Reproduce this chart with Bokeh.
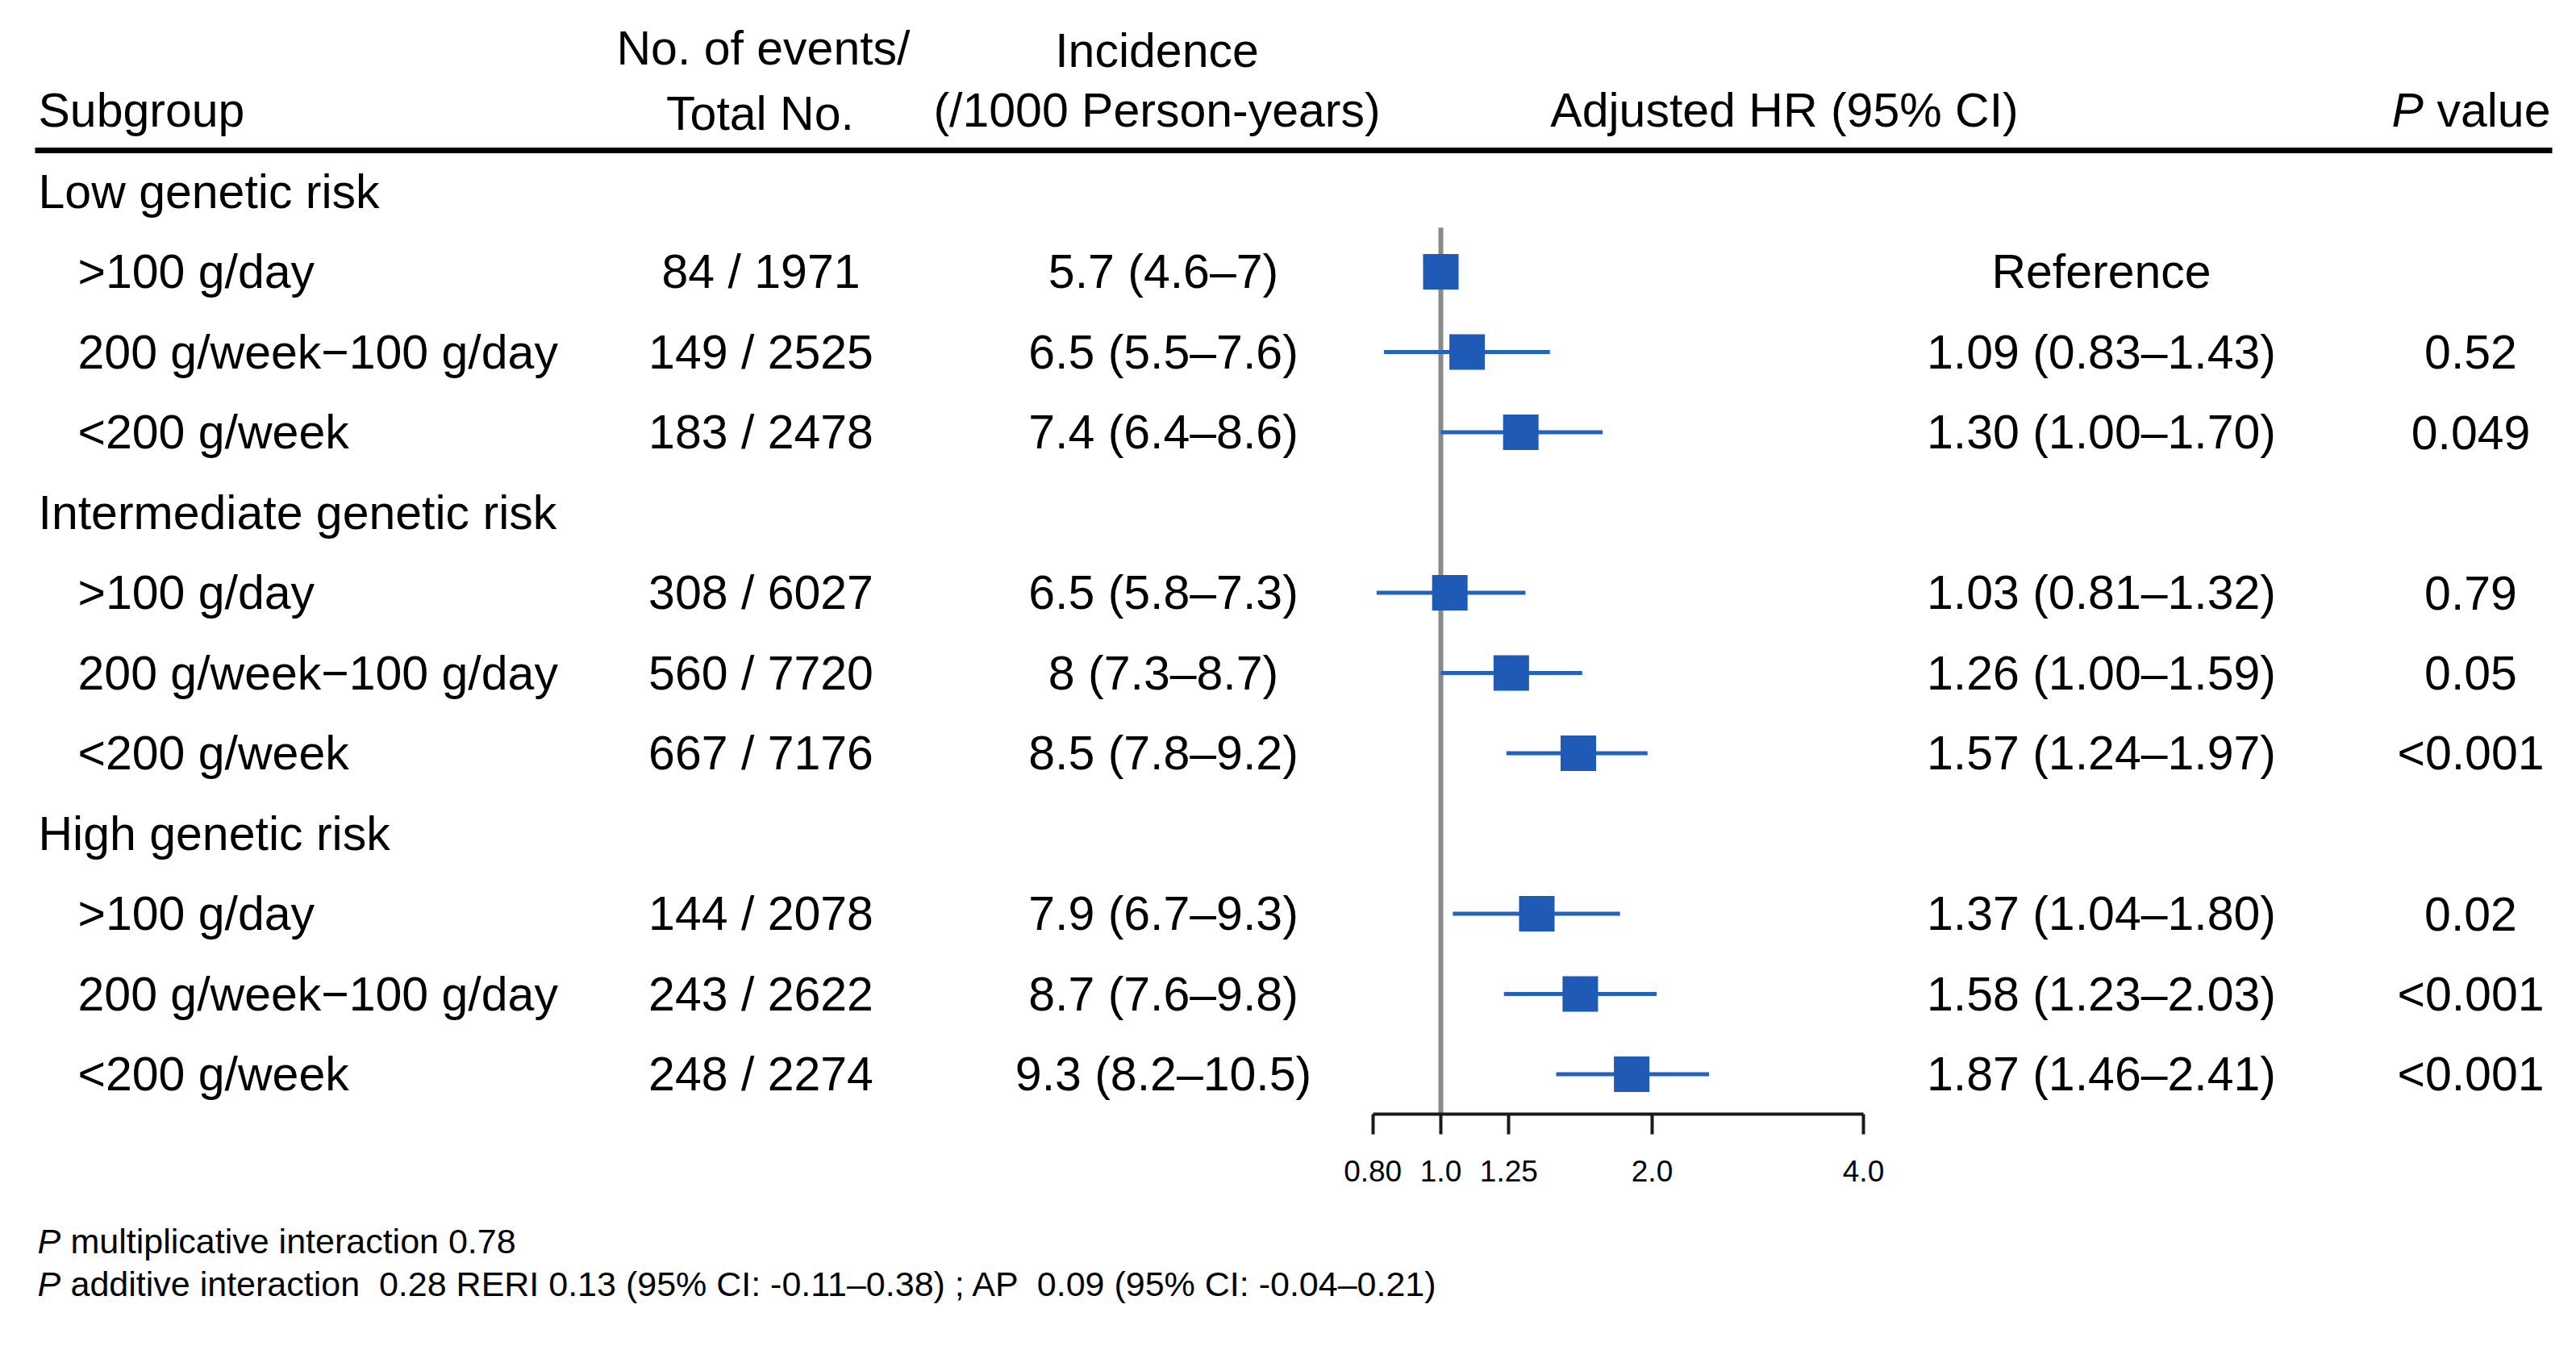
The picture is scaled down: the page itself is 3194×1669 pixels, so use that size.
import math
import numpy as np
from bokeh.plotting import figure
from bokeh.models import (Range1d, LogScale, LogAxis, FixedTicker,
                          CustomJSTickFormatter, ColumnDataSource)
from bokeh.core.properties import value
from bokeh.embed import file_html
from bokeh.resources import INLINE

# ---------------- data ----------------
group_names = ["Low genetic risk", "Intermediate genetic risk", "High genetic risk"]
intake_levels = [">100 g/day", "200 g/week\u2212100 g/day", "<200 g/week"]

events = [84, 149, 183, 308, 560, 667, 144, 243, 248]
totals = [1971, 2525, 2478, 6027, 7720, 7176, 2078, 2622, 2274]

inc_rate = [5.7, 6.5, 7.4, 6.5, 8, 8.5, 7.9, 8.7, 9.3]
inc_lo = [4.6, 5.5, 6.4, 5.8, 7.3, 7.8, 6.7, 7.6, 8.2]
inc_hi = [7, 7.6, 8.6, 7.3, 8.7, 9.2, 9.3, 9.8, 10.5]

hr = [1.00, 1.09, 1.30, 1.03, 1.26, 1.57, 1.37, 1.58, 1.87]
hr_lo = [np.nan, 0.83, 1.00, 0.81, 1.00, 1.24, 1.04, 1.23, 1.46]
hr_hi = [np.nan, 1.43, 1.70, 1.32, 1.59, 1.97, 1.80, 2.03, 2.41]
is_reference = [True, False, False, False, False, False, False, False, False]

p_values = ["", "0.52", "0.049", "0.79", "0.05", "<0.001", "0.02", "<0.001", "<0.001"]

axis_ticks = [0.8, 1.0, 1.25, 2.0, 4.0]
axis_tick_labels = ["0.80", "1.0", "1.25", "2.0", "4.0"]

footnote_1 = "multiplicative interaction 0.78"
footnote_2 = ("additive interaction \u00a00.28 RERI 0.13 (95% CI: -0.11\u20130.38) ; "
              "AP \u00a00.09 (95% CI: -0.04\u20130.21)")

# ---------------- layout constants (page pixel units) ----------------
FONT = "Liberation Sans"
W, H = 3192, 1667
ROW0, ROW_H = 237, 99.5
HR_ONE_X, PX_PER_LN = 1786, 378
BLUE = "#1F5BB6"
BLACK = "#000000"

def row_y(i):
    return ROW0 + ROW_H * i

p = figure(width=W, height=H,
           x_range=Range1d(0, W), y_range=Range1d(H, 0),
           output_backend="svg", toolbar_location=None, min_border=0,
           x_axis_location=None, y_axis_location=None,
           outline_line_color=None, background_fill_color="white",
           border_fill_color="white")
p.grid.visible = False

p.extra_x_ranges = {"hr": Range1d(math.exp((0 - HR_ONE_X) / PX_PER_LN),
                                  math.exp((W - HR_ONE_X) / PX_PER_LN))}
p.extra_x_scales = {"hr": LogScale()}

def add_text(x, y, texts, align="left", size="59px", style="normal"):
    src = ColumnDataSource(dict(x=x, y=y, t=texts))
    p.text(x="x", y="y", text="t", source=src, text_font=value(FONT),
           text_font_size=size, text_align=align, text_baseline="alphabetic",
           text_font_style=style, text_color=BLACK)

# ---------------- header ----------------
add_text([47], [136], ["Subgroup"])
add_text([946], [59], ["No. of events/"], align="center")
add_text([942], [140], ["Total No."], align="center")
add_text([1434], [62], ["Incidence"], align="center")
add_text([1434], [136], ["(/1000 Person-years)"], align="center")
add_text([2212], [136], ["Adjusted HR (95% CI)"], align="center")
add_text([2965], [136], ["P"], style="italic")
add_text([3162], [136], ["value"], align="right")

p.segment(x0=[43], x1=[3164], y0=[186], y1=[186], line_width=7,
          line_color=BLACK, line_cap="butt")

# ---------------- rows ----------------
group_rows = [g * 4 for g in range(len(group_names))]
sub_rows = [g * 4 + 1 + k for g in range(len(group_names)) for k in range(len(intake_levels))]
sub_labels = [lvl for g in range(len(group_names)) for lvl in intake_levels]

gy = [row_y(i) for i in group_rows]
sy = [row_y(i) for i in sub_rows]

add_text([47] * len(gy), gy, group_names)
add_text([96] * len(sy), sy, sub_labels)
add_text([943] * len(sy), sy, [f"{e} / {t}" for e, t in zip(events, totals)], align="center")
add_text([1442] * len(sy), sy,
         [f"{r:g} ({a:g}\u2013{b:g})" for r, a, b in zip(inc_rate, inc_lo, inc_hi)],
         align="center")
hr_text = ["Reference" if ref else f"{h:.2f} ({a:.2f}\u2013{b:.2f})"
           for ref, h, a, b in zip(is_reference, hr, hr_lo, hr_hi)]
add_text([2605] * len(sy), sy, hr_text, align="center")
add_text([3063] * len(sy), sy, p_values, align="center")

# ---------------- forest ----------------
axis_y = row_y(11.5)
p.segment(x0=[1.0], x1=[1.0], y0=[row_y(0.45)], y1=[axis_y], x_range_name="hr",
          line_color="#8A8A8A", line_width=6)

forest = ColumnDataSource(dict(y=sy, hr=hr, lo=hr_lo, hi=hr_hi))
p.segment(x0="lo", x1="hi", y0="y", y1="y", source=forest, x_range_name="hr",
          line_color="#2562BE", line_width=5)
p.scatter(x="hr", y="y", source=forest, x_range_name="hr", marker="square",
          size=44, fill_color=BLUE, line_color=None)

fmt = CustomJSTickFormatter(args=dict(tick_vals=axis_ticks, tick_txt=axis_tick_labels), code="""
for (let j = 0; j < tick_vals.length; j++) {
  if (Math.abs(tick_vals[j] - tick) < 1e-9) { return tick_txt[j]; }
}
return "";
""")
ax = LogAxis(x_range_name="hr", fixed_location=axis_y,
             bounds=(axis_ticks[0], axis_ticks[-1]),
             ticker=FixedTicker(ticks=axis_ticks, minor_ticks=[]),
             formatter=fmt,
             major_tick_in=0, major_tick_out=25, minor_tick_in=0, minor_tick_out=0,
             axis_line_width=4, axis_line_color="#1A1A1A",
             major_tick_line_width=4, major_tick_line_color="#1A1A1A",
             major_label_text_font=FONT, major_label_text_font_size="37px",
             major_label_text_color=BLACK, major_label_standoff=32)
p.add_layout(ax, "below")

# ---------------- footnotes ----------------
add_text([46, 46], [1538, 1591], ["P", "P"], size="43px", style="italic")
add_text([87, 87], [1538, 1591], [footnote_1, footnote_2], size="43px")

open("out.html", "w").write(file_html(p, INLINE))
